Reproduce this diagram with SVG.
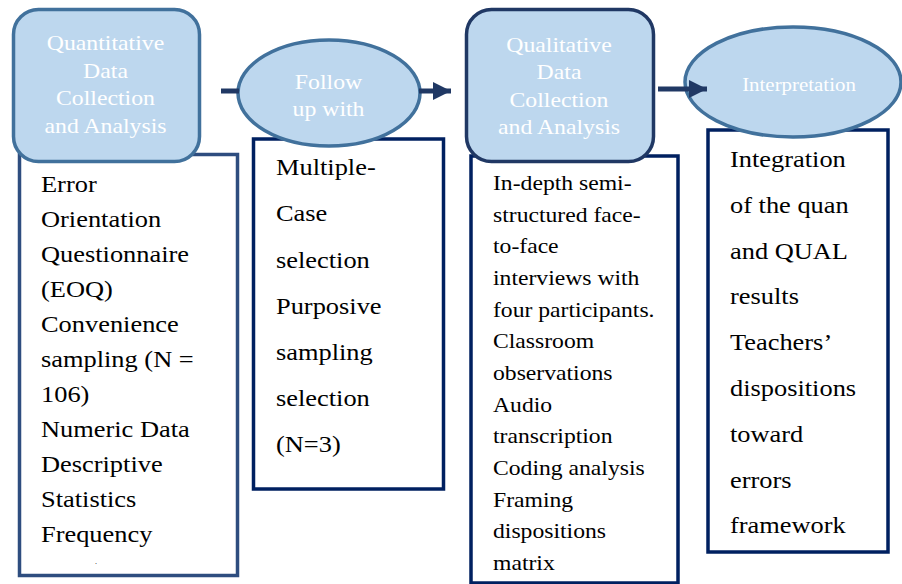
<svg xmlns="http://www.w3.org/2000/svg" width="902" height="584" viewBox="0 0 902 584">
<defs>
<style>
.box{fill:#FFFFFF;stroke:#002060;stroke-width:3.5}
.box1{fill:#FFFFFF;stroke:#2E4D7F;stroke-width:3.5}
.head{fill:#BDD7EE;stroke:#41719C;stroke-width:3.5}
.head2{fill:#BDD7EE;stroke:#203864;stroke-width:3.5}
.lbl{fill:#FFFFFF;text-anchor:middle}
.body{fill:#000000}
.conn{stroke:#203864;stroke-width:5;fill:none}
</style>
<marker id="arr" viewBox="0 0 10 10" refX="10" refY="5" markerWidth="4" markerHeight="3.6" markerUnits="strokeWidth" orient="auto">
<path d="M0,0 L10,5 L0,10 z" fill="#203864"/>
</marker>
</defs>
<rect width="902" height="584" fill="#FFFFFF"/>

<g id="quan-box">
<rect class="box1" x="19.5" y="154.5" width="218" height="421"/>
<g class="body" font-family="'Liberation Serif', 'DejaVu Serif', serif" font-size="24" transform="translate(41,0) scale(1.1,1)">
<text x="0" y="192">Error</text>
<text x="0" y="227">Orientation</text>
<text x="0" y="262">Questionnaire</text>
<text x="0" y="297">(EOQ)</text>
<text x="0" y="332">Convenience</text>
<text x="0" y="367">sampling (N =</text>
<text x="0" y="402">106)</text>
<text x="0" y="437">Numeric Data</text>
<text x="0" y="472">Descriptive</text>
<text x="0" y="507">Statistics</text>
<text x="0" y="542">Frequency</text>
</g>
<text class="body" font-family="'Liberation Serif', 'DejaVu Serif', serif" x="95" y="564" font-size="8">.</text>
</g>

<g id="quan">
<rect class="head" x="13.5" y="9.5" width="186" height="152" rx="25"/>
<g class="lbl" font-family="'Liberation Serif', 'DejaVu Serif', serif" font-size="21.6" transform="translate(105.5,0) scale(1.1,1)">
<text x="0" y="50">Quantitative</text>
<text x="0" y="78">Data</text>
<text x="0" y="105.5">Collection</text>
<text x="0" y="133.5">and Analysis</text>
</g>
</g>

<g id="follow-box">
<rect class="box" x="253.5" y="139" width="190" height="350"/>
<g class="body" font-family="'Liberation Serif', 'DejaVu Serif', serif" font-size="24" transform="translate(276,0) scale(1.1,1)">
<text x="0" y="175">Multiple-</text>
<text x="0" y="221.5">Case</text>
<text x="0" y="268">selection</text>
<text x="0" y="314">Purposive</text>
<text x="0" y="360">sampling</text>
<text x="0" y="406">selection</text>
<text x="0" y="452">(N=3)</text>
</g>
</g>

<g id="follow">
<ellipse class="head" cx="329" cy="93" rx="91" ry="53"/>
<g class="lbl" font-family="'Liberation Serif', 'DejaVu Serif', serif" font-size="21.6" transform="translate(328.5,0) scale(1.1,1)">
<text x="0" y="89.5">Follow</text>
<text x="0" y="116.5">up with</text>
</g>
</g>

<g id="qual-box">
<rect class="box" x="471" y="156" width="207" height="427"/>
<g class="body" font-family="'Liberation Serif', 'DejaVu Serif', serif" font-size="21.5" transform="translate(493,0) scale(1.1,1)">
<text x="0" y="190">In-depth semi-</text>
<text x="0" y="221.7">structured face-</text>
<text x="0" y="253.3">to-face</text>
<text x="0" y="285">interviews with</text>
<text x="0" y="316.7">four participants.</text>
<text x="0" y="348.3">Classroom</text>
<text x="0" y="380">observations</text>
<text x="0" y="411.7">Audio</text>
<text x="0" y="443.3">transcription</text>
<text x="0" y="475">Coding analysis</text>
<text x="0" y="506.7">Framing</text>
<text x="0" y="538.3">dispositions</text>
<text x="0" y="570">matrix</text>
</g>
</g>

<g id="qual">
<rect class="head2" x="466.5" y="9.5" width="187" height="152" rx="25"/>
<g class="lbl" font-family="'Liberation Serif', 'DejaVu Serif', serif" font-size="21.6" transform="translate(559,0) scale(1.1,1)">
<text x="0" y="52">Qualitative</text>
<text x="0" y="79.5">Data</text>
<text x="0" y="107">Collection</text>
<text x="0" y="134.5">and Analysis</text>
</g>
</g>

<g id="interp-box">
<rect class="box" x="708" y="130" width="180" height="422"/>
<g class="body" font-family="'Liberation Serif', 'DejaVu Serif', serif" font-size="24" transform="translate(730,0) scale(1.1,1)">
<text x="0" y="167">Integration</text>
<text x="0" y="213">of the quan</text>
<text x="0" y="259">and QUAL</text>
<text x="0" y="304.5">results</text>
<text x="0" y="350.5">Teachers’</text>
<text x="0" y="396">dispositions</text>
<text x="0" y="442">toward</text>
<text x="0" y="488">errors</text>
<text x="0" y="533">framework</text>
</g>
</g>

<g id="interp">
<ellipse class="head" cx="793" cy="82" rx="108" ry="55"/>
<g class="lbl" font-family="'Liberation Serif', 'DejaVu Serif', serif" font-size="19" transform="translate(799,0) scale(1.1,1)">
<text x="0" y="91">Interpretation</text>
</g>
</g>

<g id="connectors">
<line class="conn" x1="221" y1="91" x2="239" y2="91"/>
<line class="conn" x1="419" y1="91" x2="451" y2="91" marker-end="url(#arr)"/>
<line class="conn" x1="658" y1="89" x2="707" y2="89" marker-end="url(#arr)"/>
</g>
</svg>
